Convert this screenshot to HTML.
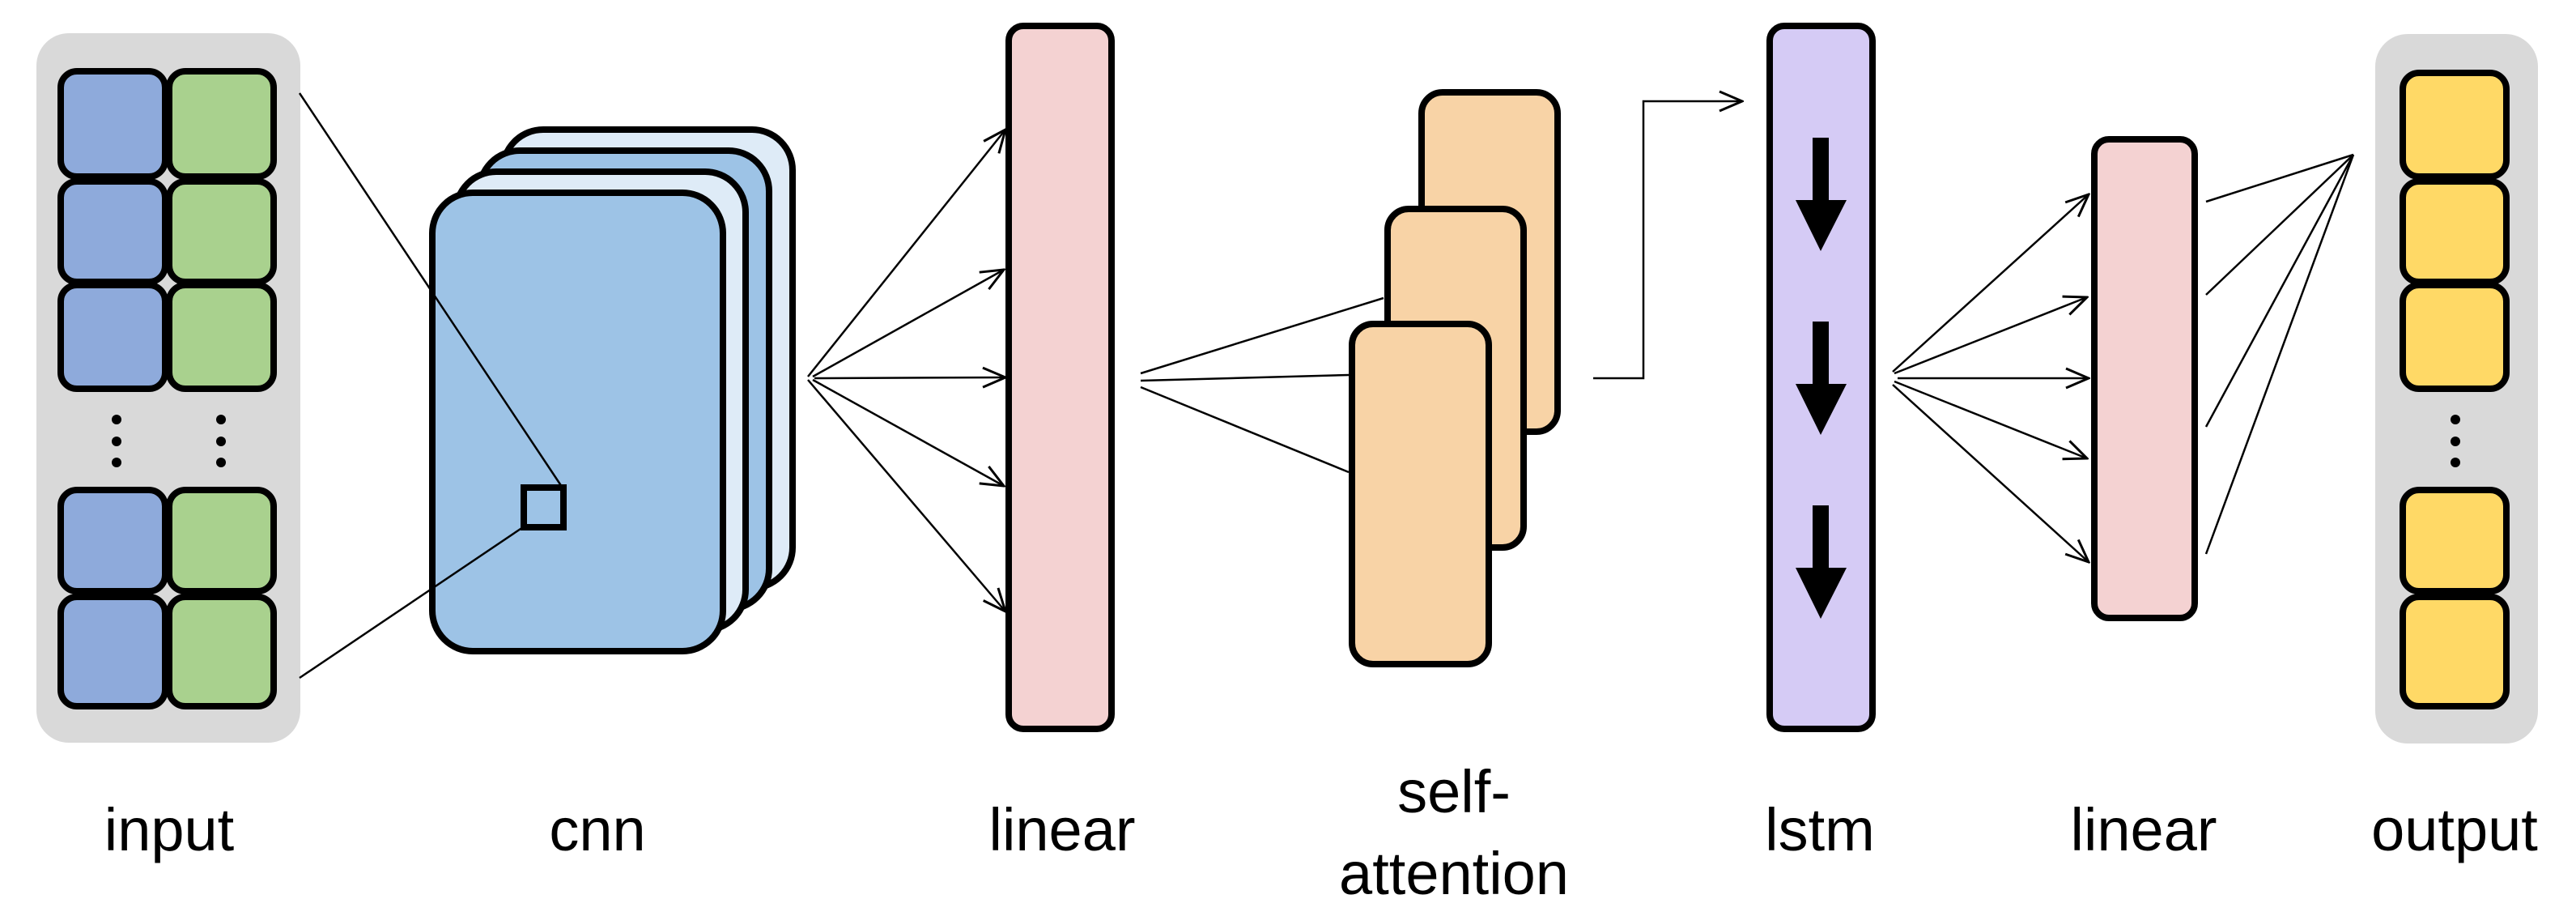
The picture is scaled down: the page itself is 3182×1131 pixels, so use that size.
<!DOCTYPE html>
<html><head><meta charset="utf-8"><style>
html,body{margin:0;padding:0;background:#fff;}
svg{display:block;}
text{font-family:"Liberation Sans",sans-serif;font-size:74px;fill:#000;text-anchor:middle;}
</style></head><body>
<svg width="3182" height="1131" viewBox="0 0 3182 1131" xmlns="http://www.w3.org/2000/svg">
<defs>
<marker id="ah" markerWidth="34" markerHeight="30" refX="32" refY="15" orient="auto" markerUnits="userSpaceOnUse">
<path d="M4,3 L32,15 L4,27" fill="none" stroke="#000" stroke-width="3"/>
</marker>
</defs>
<!-- input -->
<rect x="45" y="41" width="326" height="876" rx="40" fill="#d9d9d9"/>
<g stroke="#000" stroke-width="8">
<rect x="75" y="88" width="129" height="130" rx="20" fill="#8eaadb"/>
<rect x="209" y="88" width="129" height="130" rx="20" fill="#a9d18e"/>
<rect x="75" y="224" width="129" height="124" rx="20" fill="#8eaadb"/>
<rect x="209" y="224" width="129" height="124" rx="20" fill="#a9d18e"/>
<rect x="75" y="352" width="129" height="128" rx="20" fill="#8eaadb"/>
<rect x="209" y="352" width="129" height="128" rx="20" fill="#a9d18e"/>
<rect x="75" y="605" width="129" height="125" rx="20" fill="#8eaadb"/>
<rect x="209" y="605" width="129" height="125" rx="20" fill="#a9d18e"/>
<rect x="75" y="737" width="129" height="135" rx="20" fill="#8eaadb"/>
<rect x="209" y="737" width="129" height="135" rx="20" fill="#a9d18e"/>
</g>
<g fill="#000">
<circle cx="144" cy="518" r="6"/><circle cx="144" cy="545" r="6"/><circle cx="144" cy="571" r="6"/>
<circle cx="273" cy="518" r="6"/><circle cx="273" cy="545" r="6"/><circle cx="273" cy="571" r="6"/>
</g>
<!-- cnn -->
<g stroke="#000" stroke-width="8">
<rect x="621" y="160" width="358" height="566" rx="50" fill="#deebf7"/>
<rect x="592" y="186" width="358" height="566" rx="50" fill="#9dc3e6"/>
<rect x="563" y="212" width="358" height="566" rx="50" fill="#deebf7"/>
<rect x="534" y="238" width="359" height="566" rx="50" fill="#9dc3e6"/>
<rect x="647" y="602" width="49" height="49" fill="#9dc3e6"/>
</g>
<g stroke="#000" stroke-width="2.5" fill="none">
<line x1="370" y1="115" x2="694" y2="601"/>
<line x1="370" y1="837" x2="646" y2="651"/>
</g>
<!-- fan 1 -->
<g stroke="#000" stroke-width="2.5" fill="none" marker-end="url(#ah)">
<line x1="998" y1="465" x2="1242" y2="160"/>
<line x1="1004" y1="465" x2="1240" y2="333"/>
<line x1="1006" y1="467" x2="1242" y2="466"/>
<line x1="1004" y1="469" x2="1240" y2="600"/>
<line x1="998" y1="469" x2="1242" y2="755"/>
</g>
<!-- linear 1 -->
<rect x="1246" y="32" width="127" height="868" rx="18" fill="#f4d2d2" stroke="#000" stroke-width="8"/>
<!-- self attention -->
<g stroke="#000" stroke-width="8" fill="#f8d3a6">
<rect x="1756" y="114" width="168" height="419" rx="26"/>
<rect x="1714" y="258" width="168" height="418" rx="26"/>
<rect x="1670" y="400" width="169" height="420" rx="26"/>
</g>
<g stroke="#000" stroke-width="2.5" fill="none">
<line x1="1409" y1="461" x2="1709" y2="368"/>
<line x1="1409" y1="470" x2="1666" y2="463"/>
<line x1="1409" y1="478" x2="1666" y2="583"/>
<polyline points="1968,467 2030,467 2030,125 2152,125" marker-end="url(#ah)"/>
</g>
<!-- lstm -->
<rect x="2186" y="32" width="127" height="868" rx="18" fill="#d5cbf5" stroke="#000" stroke-width="8"/>
<g fill="#000">
<path d="M2239,170 h20 v77 h22 l-32,63 l-31,-63 h21 z"/>
<path d="M2239,397 h20 v77 h22 l-32,63 l-31,-63 h21 z"/>
<path d="M2239,624 h20 v77 h22 l-32,63 l-31,-63 h21 z"/>
</g>
<!-- fan 2 -->
<g stroke="#000" stroke-width="2.5" fill="none" marker-end="url(#ah)">
<line x1="2338" y1="459" x2="2580" y2="240"/>
<line x1="2340" y1="461" x2="2578" y2="367"/>
<line x1="2344" y1="467" x2="2580" y2="467"/>
<line x1="2340" y1="471" x2="2578" y2="566"/>
<line x1="2338" y1="475" x2="2580" y2="694"/>
</g>
<!-- linear 2 -->
<rect x="2587" y="172" width="124" height="591" rx="18" fill="#f4d2d2" stroke="#000" stroke-width="8"/>
<g stroke="#000" stroke-width="2.5" fill="none">
<line x1="2725" y1="249" x2="2907" y2="191"/>
<line x1="2725" y1="364" x2="2907" y2="191"/>
<line x1="2725" y1="527" x2="2907" y2="191"/>
<line x1="2725" y1="684" x2="2907" y2="191"/>
</g>
<!-- output -->
<rect x="2934" y="42" width="201" height="876" rx="40" fill="#d9d9d9"/>
<g stroke="#000" stroke-width="8" fill="#ffd966">
<rect x="2968" y="90" width="128" height="128" rx="20"/>
<rect x="2968" y="224" width="128" height="124" rx="20"/>
<rect x="2968" y="352" width="128" height="128" rx="20"/>
<rect x="2968" y="605" width="128" height="125" rx="20"/>
<rect x="2968" y="737" width="128" height="135" rx="20"/>
</g>
<g fill="#000">
<circle cx="3033" cy="518" r="6"/><circle cx="3033" cy="545" r="6"/><circle cx="3033" cy="571" r="6"/>
</g>
<!-- labels -->
<text x="209" y="1050">input</text>
<text x="738" y="1050">cnn</text>
<text x="1312" y="1050">linear</text>
<text x="1796" y="1003">self-</text>
<text x="1796" y="1104">attention</text>
<text x="2248" y="1050">lstm</text>
<text x="2648" y="1050">linear</text>
<text x="3032" y="1050">output</text>
</svg>
</body></html>
